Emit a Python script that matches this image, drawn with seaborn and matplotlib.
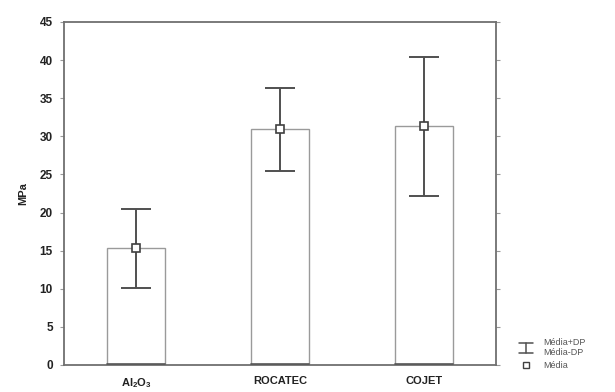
import numpy as np
import pandas as pd
import matplotlib
matplotlib.use("Agg")
import matplotlib.pyplot as plt
import seaborn as sns
from matplotlib.lines import Line2D
from matplotlib.legend_handler import HandlerBase

# dados
grupos = [r"$\mathbf{Al_2O_3}$", "ROCATEC", "COJET"]
medias = [15.3, 30.9, 31.3]
dp = [5.2, 5.4, 9.15]
y_ticks = [0, 5, 10, 15, 20, 25, 30, 35, 40, 45]

df = pd.DataFrame({"grupo": grupos, "mpa": medias, "dp": dp})

sns.set_theme(style="white")
plt.rcParams["font.family"] = ["Liberation Sans", "DejaVu Sans"]
plt.rcParams["mathtext.fontset"] = "custom"
plt.rcParams["mathtext.rm"] = "Liberation Sans"
plt.rcParams["mathtext.bf"] = "Liberation Sans:bold"


class HandlerBarraErro(HandlerBase):
    """Simbolo de media +- DP deitado, como na legenda original."""

    def create_artists(self, legend, orig_handle, xd, yd, w, h, fontsize, trans):
        y0 = yd + h * 0.5
        cor = "#505050"
        topo = Line2D([xd, xd + w], [y0 + 3.5, y0 + 3.5], color=cor, lw=1.1, transform=trans)
        base = Line2D([xd, xd + w], [y0 - 3.5, y0 - 3.5], color=cor, lw=1.1, transform=trans)
        meio = Line2D([xd + w / 2, xd + w / 2], [y0 - 3.5, y0 + 3.5], color=cor, lw=1.1, transform=trans)
        return [topo, base, meio]


fig = plt.figure(figsize=(6.15, 3.92), dpi=100)
ax = fig.add_axes([0.104, 0.069, 0.703, 0.875])

sns.barplot(data=df, x="grupo", y="mpa", ax=ax, color="white",
            edgecolor="#9a9a9a", linewidth=1.0, width=0.4, errorbar=None)

# linha inferior das barras mais escura
for p in ax.patches:
    ax.plot([p.get_x(), p.get_x() + p.get_width()], [0.15, 0.15],
            color="#555555", lw=1.2, zorder=3)

x = np.arange(len(grupos))
ax.errorbar(x, df["mpa"], yerr=df["dp"], fmt="none", ecolor="#505050",
            elinewidth=1.4, capsize=11, capthick=1.4, zorder=4)
ax.plot(x, df["mpa"], "s", ms=5.5, mfc="white", mec="#404040", mew=1.2,
        zorder=5, linestyle="none")

ax.set_xlim(-0.5, 2.5)
ax.set_ylim(0, 45)
ax.set_yticks(y_ticks)
ax.set_xlabel("")
ax.set_ylabel("MPa", fontsize=8, fontweight="bold", color="#222222", labelpad=8)

for s in ax.spines.values():
    s.set_color("#707070")
    s.set_linewidth(1.3)

ax.tick_params(axis="y", which="major", left=True, right=True, direction="out",
               length=3, width=0.8, color="#999999", labelsize=8.5,
               labelcolor="#222222", pad=5)
ax.tick_params(axis="x", bottom=False, labelsize=8, labelcolor="#222222", pad=2)
for lab in ax.get_xticklabels() + ax.get_yticklabels():
    lab.set_fontweight("bold")

# legenda
h_erro = Line2D([], [])
h_media = Line2D([], [], ls="none", marker="s", ms=4.5, mfc="white",
                 mec="#404040", mew=1.0)
leg = fig.legend([h_erro, h_media], ["Média+DP\nMédia-DP", "Média"],
                 handler_map={h_erro: HandlerBarraErro()},
                 loc="lower left", bbox_to_anchor=(0.83, 0.035),
                 frameon=False, fontsize=6.5, labelcolor="#555555",
                 handlelength=1.6, handletextpad=1.1, labelspacing=0.45)

fig.savefig("out.png", dpi=100, facecolor="white")
